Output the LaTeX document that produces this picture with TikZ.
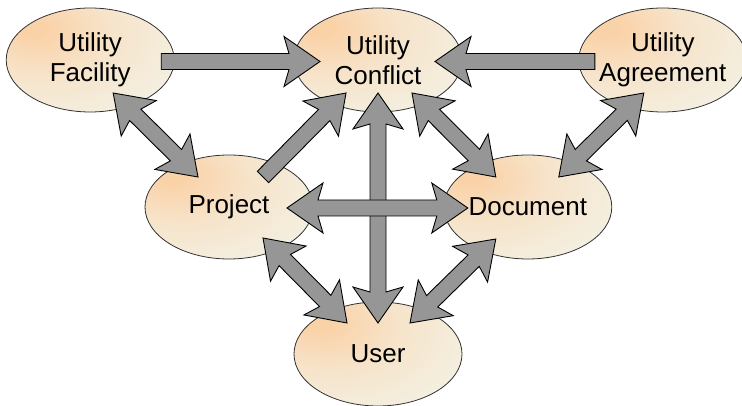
\documentclass[tikz,border=0pt]{standalone}
\usepackage{fontspec}
\setmainfont{Liberation Sans}
\usetikzlibrary{shapes.geometric,positioning,calc}
\definecolor{peach}{RGB}{250,210,168}
\definecolor{cream}{RGB}{243,243,232}
\definecolor{arrowgray}{RGB}{150,150,150}
\pgfdeclareradialshading{entshade}{\pgfpoint{-18bp}{16bp}}{color(0bp)=(peach); color(4bp)=(peach); color(21bp)=(peach!45!cream); color(46bp)=(cream); color(100bp)=(cream)}
\tikzset{ ent/.style={ ellipse, draw=black!80, line width=0.8pt, shade, shading=entshade, minimum width=168pt, minimum height=104pt, inner xsep=-16pt, inner ysep=0pt, align=center, font=\fontsize{26}{30}\selectfont}, blk/.style={ draw=black, fill=arrowgray, line width=0.9pt, line join=miter}}
% block arrow with one head: tail node, offset, tip node, offset
\newcommand{\singlearrow}[4]{%
  \coordinate (ba-s) at ($(#1)+(#2)$);
  \coordinate (ba-e) at ($(#3)+(#4)$);
  \draw[blk] ($(ba-s)!8pt!90:(ba-e)$) -- ($(ba-e)!31pt!(ba-s)!8pt!90:(ba-e)$)
    -- ($(ba-e)!36pt!(ba-s)!25pt!90:(ba-e)$) -- (ba-e)
    -- ($(ba-e)!36pt!(ba-s)!25pt!-90:(ba-e)$) -- ($(ba-e)!31pt!(ba-s)!8pt!-90:(ba-e)$)
    -- ($(ba-s)!8pt!-90:(ba-e)$) -- cycle;}
% block arrow with two heads
\newcommand{\doublearrow}[4]{%
  \coordinate (ba-s) at ($(#1)+(#2)$);
  \coordinate (ba-e) at ($(#3)+(#4)$);
  \draw[blk] (ba-s) -- ($(ba-s)!36pt!(ba-e)!25pt!90:(ba-e)$) -- ($(ba-s)!31pt!(ba-e)!8pt!90:(ba-e)$)
    -- ($(ba-e)!31pt!(ba-s)!8pt!90:(ba-e)$) -- ($(ba-e)!36pt!(ba-s)!25pt!90:(ba-e)$) -- (ba-e)
    -- ($(ba-e)!36pt!(ba-s)!25pt!-90:(ba-e)$) -- ($(ba-e)!31pt!(ba-s)!8pt!-90:(ba-e)$)
    -- ($(ba-s)!31pt!(ba-e)!8pt!-90:(ba-e)$) -- ($(ba-s)!36pt!(ba-e)!25pt!-90:(ba-e)$) -- cycle;}

\begin{document}
\begin{tikzpicture}[x=1pt, y=1pt]
    \useasboundingbox (0,0) rectangle (742,406);
    %nodes
    \node[ent] (conflict) at (378,346) {Utility\\Conflict};
    \node[ent, left=119pt of conflict] (facility) {Utility\\Facility};
    \node[ent, right=116pt of conflict] (agreement) {Utility\\Agreement};
    \node[ent] (project) at (229,199) {Project};
    \node[ent, right=130pt of project] (document) {Document};
    \node[ent] (user) at (378,52) {User};
    %arrows into the conflict
    \singlearrow{facility}{71,-1.5}{conflict}{-58,-1.5}
    \singlearrow{agreement}{-68,-1.5}{conflict}{57,-1.5}
    \singlearrow{project}{34,30}{conflict}{-32,-33}
    %two-way arrows
    \doublearrow{facility}{23,-33}{project}{-31,30}
    \doublearrow{conflict}{0,-33}{user}{0,31}
    \doublearrow{project}{58,-1}{document}{-60,-1}
    \doublearrow{conflict}{34,-33}{document}{-32,30}
    \doublearrow{agreement}{-19,-33}{document}{31,30}
    \doublearrow{project}{34,-31}{user}{-31,31}
    \doublearrow{document}{-32,-32}{user}{32,31}
\end{tikzpicture}
\end{document}
